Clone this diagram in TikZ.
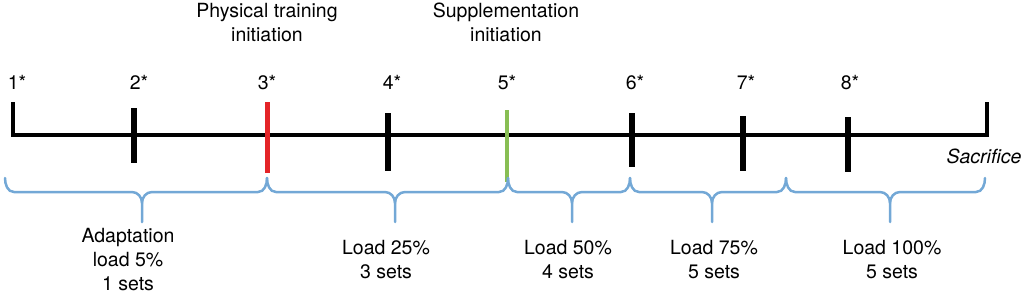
\documentclass[tikz,border=0pt]{standalone}
\usepackage{fontspec}
\setmainfont{TeX Gyre Heros}
\definecolor{bracecol}{RGB}{115,168,214}
\definecolor{redtick}{RGB}{228,36,40}
\definecolor{greentick}{RGB}{136,190,84}
\begin{document}
\begin{tikzpicture}[x=1pt,y=-1pt,
  txt/.style={inner sep=0pt,anchor=base,align=center,font=\fontsize{19.5}{24}\selectfont},
  axis/.style={line width=4.5pt,line join=miter},
  tick/.style={line width=6pt},
  brc/.style={draw=bracecol,line width=2.5pt,line cap=round,line join=round}]
\useasboundingbox (0,0) rectangle (1024,300);
% main axis
\coordinate (L) at (13,135);
\coordinate (R) at (987,135);
\draw[axis] (13,102) -- (L) -- (R) -- (987,102);
% ticks
\draw[tick] (134,108) -- (134,163);
\draw[tick,draw=redtick,line width=5pt] (267,102) -- (267,173);
\draw[tick] (388,113) -- (388,171);
\draw[tick,draw=greentick,line width=4pt] (507,110) -- (507,182);
\draw[tick] (632,113) -- (632,167);
\draw[tick] (743,116) -- (743,171);
\draw[tick] (848,117) -- (848,172);
% tick labels
\node[txt] (n1) at (17,89) {1*};
\node[txt] (n2) at (139,89) {2*};
\node[txt] (n3) at (267,89) {3*};
\node[txt] (n4) at (392,89) {4*};
\node[txt] (n5) at (507,89) {5*};
\node[txt] (n6) at (635,89) {6*};
\node[txt] (n7) at (746,89) {7*};
\node[txt] (n8) at (850,89) {8*};
\node[txt] (pt) at (267,41) {Physical training\\initiation};
\node[txt] (si) at (506,41) {Supplementation\\initiation};
\node[txt,font=\fontsize{19.5}{24}\selectfont\itshape] (sac) at (984,163) {Sacrifice};
% braces
\newcommand\mybrace[3]{%
  \draw[brc] (#1,178) to[out=-90,in=180] (#1+9,192) -- (#3-10,192) to[out=0,in=90] (#3,203) -- (#3,222);
  \draw[brc] (#3,203) to[out=90,in=180] (#3+10,192) -- (#2-9,192) to[out=0,in=-90] (#2,178);}
\mybrace{5}{267}{142}
\mybrace{267}{508}{395}
\mybrace{508}{630}{572}
\mybrace{630}{786}{712}
\mybrace{786}{985}{890}
% phase labels
\node[txt] (p1) at (128,290) {Adaptation\\load 5\%\\1 sets};
\node[txt] (p2) at (386,278) {Load 25\%\\3 sets};
\node[txt] (p3) at (568,278) {Load 50\%\\4 sets};
\node[txt] (p4) at (714,278) {Load 75\%\\5 sets};
\node[txt] (p5) at (892,278) {Load 100\%\\5 sets};
\end{tikzpicture}
\end{document}
